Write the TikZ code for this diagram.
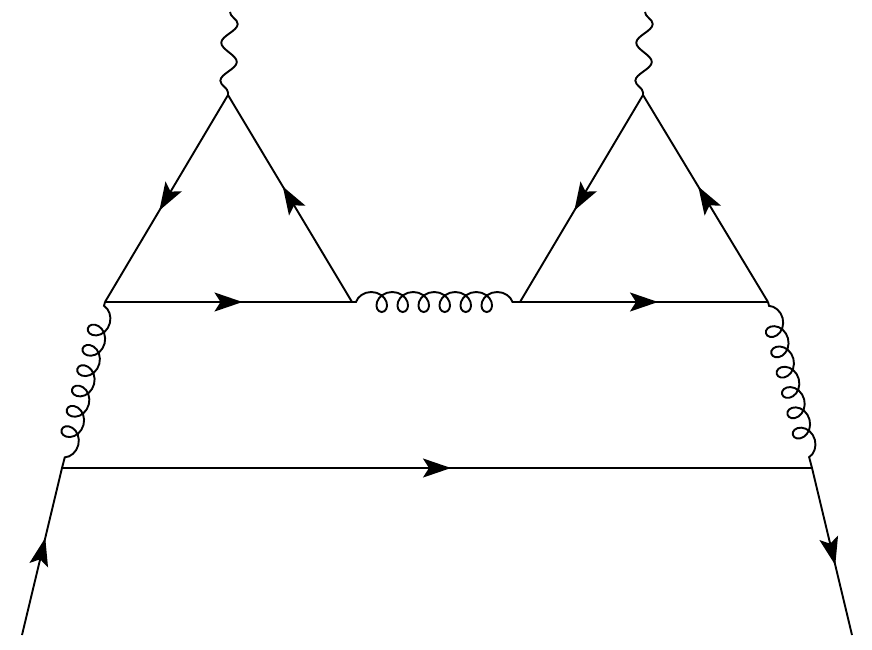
\documentclass[tikz,border=0pt]{standalone}
\usetikzlibrary{decorations.pathmorphing,decorations.markings,arrows.meta}
\begin{document}
\begin{tikzpicture}[x=1pt,y=-1pt,line width=1.9pt,
  fermion/.style={postaction={decorate},decoration={markings,mark=at position 0.5 with {\arrow[xshift=14pt]{Stealth[length=28pt,width=19pt,inset=6pt]}}}},
  gluon/.style={decorate,decoration={coil,aspect=1,amplitude=10pt,segment length=21pt,pre length=4pt,post length=4pt}},
  photon/.style={decorate,decoration={snake,amplitude=8pt,segment length=38pt}}]
\useasboundingbox (0,0) rectangle (872,649);
\coordinate (P1) at (230,12);
\coordinate (A1) at (228,95);
\coordinate (B1) at (105,302);
\coordinate (C1) at (352,302);
\coordinate (P2) at (645,12);
\coordinate (A2) at (643,95);
\coordinate (D2) at (520,302);
\coordinate (E2) at (768,302);
\coordinate (F) at (62,468);
\coordinate (G) at (812,468);
\coordinate (I) at (22,635);
\coordinate (O) at (852,635);
\draw[photon] (P1) -- (A1);
\draw[photon] (P2) -- (A2);
\draw[fermion] (A1) -- (B1);
\draw[fermion] (C1) -- (A1);
\draw[fermion] (B1) -- (C1);
\draw[fermion] (A2) -- (D2);
\draw[fermion] (E2) -- (A2);
\draw[fermion] (D2) -- (E2);
\draw[gluon] (C1) -- (D2);
\draw[gluon] (B1) -- (F);
\draw[gluon] (E2) -- (G);
\draw[fermion] (F) -- (G);
\draw[fermion] (I) -- (F);
\draw[fermion] (G) -- (O);
\end{tikzpicture}
\end{document}
